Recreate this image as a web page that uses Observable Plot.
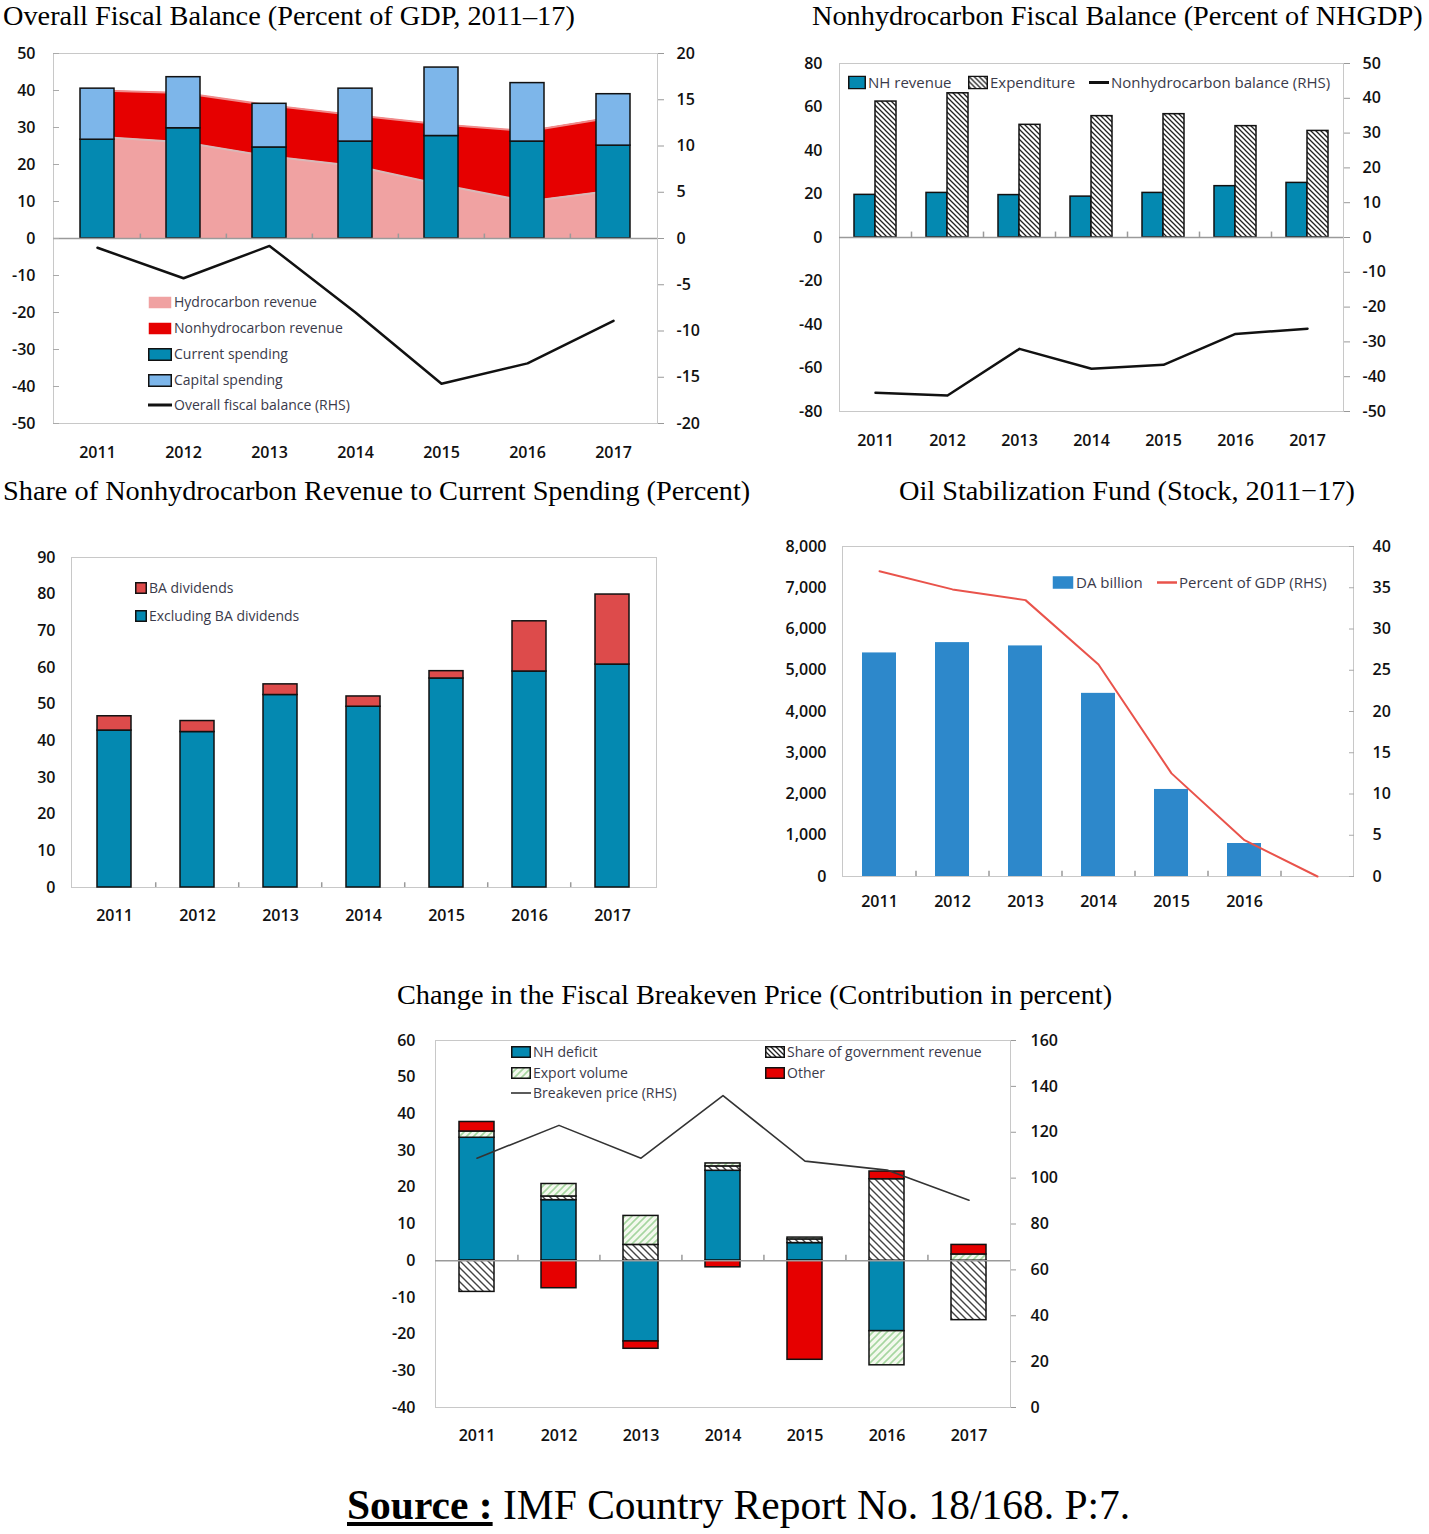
<!DOCTYPE html>
<html><head><meta charset="utf-8">
<script src="https://cdn.jsdelivr.net/npm/d3@7"></script>
<script src="https://cdn.jsdelivr.net/npm/@observablehq/plot@0.6"></script>
<style>
body{margin:0;background:#fff;}
#root{position:relative;width:1429px;height:1534px;overflow:hidden;font-family:"Open Sans",sans-serif;}
.panel{position:absolute;}
.title{position:absolute;font-family:"Liberation Serif","Times New Roman",serif;font-size:28.3px;color:#000;white-space:nowrap;line-height:1.15;}
.leg{position:absolute;font-family:"Open Sans",sans-serif;font-size:14px;color:#3a3a4a;white-space:nowrap;display:flex;align-items:center;line-height:1;transform:translateY(-50%);}
.leg svg{margin-right:2px;flex:none;}
.source{position:absolute;left:347px;top:1485px;font-family:"Liberation Serif","Times New Roman",serif;font-size:41.5px;color:#000;white-space:nowrap;line-height:1;}
.source b{text-decoration:underline;}
</style></head><body>
<svg width="0" height="0" style="position:absolute">
  <defs>
    <pattern id="hatchB5" patternUnits="userSpaceOnUse" width="5" height="5">
      <rect width="5" height="5" fill="#fff"/>
      <path d="M0,0L5,5M-1,4L1,6M4,-1L6,1" stroke="#222" stroke-width="1.3"/>
    </pattern>
    <pattern id="hatchB7" patternUnits="userSpaceOnUse" width="7" height="7">
      <rect width="7" height="7" fill="#fff"/>
      <path d="M0,0L7,7M-1,6L1,8M6,-1L8,1" stroke="#444" stroke-width="1.4"/>
    </pattern>
    <pattern id="hatchG" patternUnits="userSpaceOnUse" width="7" height="7">
      <rect width="7" height="7" fill="#f4f9ee"/>
      <path d="M0,7L7,0M-1,1L1,-1M6,8L8,6" stroke="#a6d6a0" stroke-width="1.6"/>
    </pattern>
  </defs>
</svg>
<div id="root"></div>
<script>
// ---------- DATA ----------
const years = ["2011","2012","2013","2014","2015","2016","2017"];

// Panel 1: Overall Fiscal Balance (Percent of GDP)
const currentSpending = [26.7, 29.8, 24.6, 26.2, 27.7, 26.2, 25.1];
const capitalSpending = [13.8, 13.8, 11.8, 14.3, 18.5, 15.8, 13.9];
const hydroRevenue    = [27.5, 26.0, 22.2, 19.6, 14.5, 10.0, 13.0];
const nonHydroRevenue = [12.5, 13.3, 13.8, 13.7, 16.3, 19.0, 19.8];
const overallBalance  = [-1.0, -4.3, -0.8, -8.0, -15.7, -13.5, -8.9];
const p1LeftTicks  = [-50,-40,-30,-20,-10,0,10,20,30,40,50];
const p1RightTicks = [-20,-15,-10,-5,0,5,10,15,20];

// Panel 2: Nonhydrocarbon Fiscal Balance (Percent of NHGDP)
const nhRevenue   = [19.6, 20.5, 19.5, 18.8, 20.5, 23.6, 25.1];
const expenditure = [62.5, 66.3, 51.8, 55.8, 56.7, 51.2, 49.0];
const nhBalance   = [-44.6, -45.4, -32.0, -37.7, -36.6, -27.7, -26.2];
const p2LeftTicks  = [-80,-60,-40,-20,0,20,40,60,80];
const p2RightTicks = [-50,-40,-30,-20,-10,0,10,20,30,40,50];

// Panel 3: Share of Nonhydrocarbon Revenue to Current Spending
const excludingBA = [42.8, 42.4, 52.5, 49.3, 57.0, 58.9, 60.8];
const baDividends = [3.9, 3.0, 2.9, 2.8, 2.0, 13.7, 19.1];
const p3Ticks = [0,10,20,30,40,50,60,70,80,90];

// Panel 4: Oil Stabilization Fund
const fundDA     = [5420, 5670, 5590, 4440, 2110, 800, 0];
const fundPctGDP = [37.0, 34.8, 33.5, 25.7, 12.5, 4.4, 0];
const fundYearLabels = ["2011","2012","2013","2014","2015","2016",""];
const p4LeftTicks  = [0,1000,2000,3000,4000,5000,6000,7000,8000];
const p4RightTicks = [0,5,10,15,20,25,30,35,40];

// Panel 5: Change in the Fiscal Breakeven Price
const nhDeficit    = [33.5, 16.5, -22.0, 24.5, 4.8, -19.2, 0];
const shareGovRev  = [-8.5, 1.0, 4.3, 1.2, 1.0, 22.2, -16.2];
const exportVolume = [1.7, 3.4, 7.9, 0.8, 0.5, -9.3, 1.7];
const otherContrib = [2.6, -7.5, -2.0, -1.8, -27.0, 2.1, 2.6];
const breakevenPrice = [108.7, 123.0, 108.7, 136.0, 107.4, 103.5, 90.4];
const p5LeftTicks  = [-40,-30,-20,-10,0,10,20,30,40,50,60];
const p5RightTicks = [0,20,40,60,80,100,120,140,160];

// ---------- COLORS ----------
const TEAL = "#0489B1", LIGHTBLUE = "#7DB6EA", PINK = "#F0A2A2", RED = "#E60000";
const BA_RED = "#DD4B4B", FUND_BLUE = "#2D88CB", FUND_RED = "#E9534B";

const root = document.getElementById("root");
const axisStyle = {fontFamily: "'Open Sans', sans-serif", fontSize: "16px", fontWeight: 600, color: "#111", background: "transparent", overflow: "visible"};
function place(node, left, top) {
  node.style.position = "absolute"; node.style.left = left + "px"; node.style.top = top + "px";
  root.appendChild(node);
}
function title(text, left, top) {
  const d = document.createElement("div"); d.className = "title"; d.textContent = text;
  d.style.left = left + "px"; d.style.top = top + "px"; root.appendChild(d);
}
function rectSw(w, h, fill, stroke) {
  return `<svg width="${w}" height="${h}"><rect x="0.75" y="0.75" width="${w-1.5}" height="${h-1.5}" fill="${fill}" stroke="${stroke || "none"}" stroke-width="1.5"/></svg>`;
}
function lineSw(w, color, sw) {
  return `<svg width="${w}" height="8"><line x1="0" x2="${w}" y1="4" y2="4" stroke="${color}" stroke-width="${sw}"/></svg>`;
}
function legend(x, y, sw, label, fs) {
  const d = document.createElement("div"); d.className = "leg";
  d.style.left = x + "px"; d.style.top = y + "px"; if (fs) d.style.fontSize = fs + "px";
  d.innerHTML = sw + `<span>${label}</span>`; root.appendChild(d);
}
const fmt = d => String(Math.round(d * 100) / 100);
// small category-separator ticks on a baseline (half a band step to the left of each year but the first)
function sepTicks(step, y0, len) {
  return Plot.ruleX(years.slice(1), {x: d => d, dx: -step / 2, y1: y0, y2: y0 + len, stroke: "#9a9a9a", strokeWidth: 1.5});
}

// ---------- PANEL 1 ----------
{
  const k = 2.5;
  const rev = years.flatMap((y, i) => [
    {year: y, series: "Hydrocarbon revenue", value: hydroRevenue[i]},
    {year: y, series: "Nonhydrocarbon revenue", value: nonHydroRevenue[i]}]);
  const spend = years.flatMap((y, i) => [
    {year: y, series: "Current spending", value: currentSpending[i]},
    {year: y, series: "Capital spending", value: capitalSpending[i]}]);
  const rows = years.map((y, i) => ({year: y, hydro: hydroRevenue[i], total: hydroRevenue[i] + nonHydroRevenue[i], bal: overallBalance[i]}));
  const p = Plot.plot({
    width: 710, height: 440, marginLeft: 53, marginRight: 53, marginTop: 13, marginBottom: 57,
    style: axisStyle,
    x: {domain: years, paddingInner: 0.6, paddingOuter: 0.3, label: null},
    y: {domain: [-50, 50], label: null},
    color: {domain: ["Hydrocarbon revenue", "Nonhydrocarbon revenue", "Current spending", "Capital spending"], range: [PINK, RED, TEAL, LIGHTBLUE]},
    marks: [
      Plot.frame({stroke: "#c8c8c8"}),
      Plot.areaY(rev, {x: "year", y: "value", fill: "series"}),
      Plot.lineY(rows, {x: "year", y: "hydro", stroke: "#d9b8b8", strokeWidth: 2}),
      Plot.lineY(rows, {x: "year", y: "total", stroke: "#f08a8a", strokeWidth: 2}),
      sepTicks(604 / 7, 0, 1.2),
      Plot.barY(spend, {x: "year", y: "value", fill: "series", stroke: "#111", strokeWidth: 1.5}),
      Plot.ruleY([0], {stroke: "#9a9a9a", strokeWidth: 1.5}),
      Plot.lineY(rows, {x: "year", y: d => d.bal * k, stroke: "#111", strokeWidth: 2.5}),
      Plot.axisX({tickSize: 0, tickPadding: 23}),
      Plot.axisY({anchor: "left", ticks: p1LeftTicks, tickFormat: fmt, tickSize: -6, tickPadding: 24, stroke: "#aaa"}),
      Plot.axisY({anchor: "right", ticks: p1RightTicks.map(r => r * k), tickFormat: d => fmt(d / k), tickSize: 6, tickPadding: 13, stroke: "#999"})
    ]
  });
  place(p, 0, 40);
  title("Overall Fiscal Balance (Percent of GDP, 2011\u201317)", 3, 0);
  legend(148, 302, rectSw(24, 13, PINK), "Hydrocarbon revenue");
  legend(148, 328, rectSw(24, 13, RED), "Nonhydrocarbon revenue");
  legend(148, 354, rectSw(24, 13, TEAL, "#111"), "Current spending");
  legend(148, 380, rectSw(24, 13, LIGHTBLUE, "#111"), "Capital spending");
  legend(148, 405, lineSw(24, "#111", 3), "Overall fiscal balance (RHS)");
}

// ---------- PANEL 2 ----------
{
  const k = 1.6;
  const rows = years.map((y, i) => ({year: y, rev: nhRevenue[i], exp: expenditure[i], bal: nhBalance[i]}));
  const p = Plot.plot({
    width: 669, height: 440, marginLeft: 79, marginRight: 86, marginTop: 23, marginBottom: 69,
    style: axisStyle,
    x: {domain: years, paddingInner: 0.42, paddingOuter: 0.21, label: null},
    y: {domain: [-80, 80], label: null},
    marks: [
      Plot.frame({stroke: "#c8c8c8"}),
      sepTicks(504 / 7, 0, 2.5),
      Plot.barY(rows, {x: "year", y: "rev", fill: TEAL, stroke: "#111", strokeWidth: 1.5, insetRight: 21}),
      Plot.barY(rows, {x: "year", y: "exp", fill: "url(#hatchB5)", stroke: "#111", strokeWidth: 1.5, insetLeft: 21}),
      Plot.ruleY([0], {stroke: "#9a9a9a", strokeWidth: 1.5}),
      Plot.lineY(rows, {x: "year", y: d => d.bal * k, stroke: "#111", strokeWidth: 2.5}),
      Plot.axisX({tickSize: 0, tickPadding: 23}),
      Plot.axisY({anchor: "left", ticks: p2LeftTicks, tickFormat: fmt, tickSize: 0, tickPadding: 17}),
      Plot.axisY({anchor: "right", ticks: p2RightTicks.map(r => r * k), tickFormat: d => fmt(d / k), tickSize: 6, tickPadding: 13, stroke: "#999"})
    ]
  });
  place(p, 760, 40);
  title("Nonhydrocarbon Fiscal Balance (Percent of NHGDP)", 812, 0);
  legend(848, 82, rectSw(18, 14, TEAL, "#111"), "NH revenue", 15);
  legend(968, 82, `<svg width="20" height="14"><rect x="0.75" y="0.75" width="18.5" height="12.5" fill="url(#hatchB5)" stroke="#111" stroke-width="1.5"/></svg>`, "Expenditure", 15);
  legend(1089, 82, lineSw(20, "#111", 3), "Nonhydrocarbon balance (RHS)", 15);
}

// ---------- PANEL 3 ----------
{
  const data = years.flatMap((y, i) => [
    {year: y, series: "Excluding BA dividends", value: excludingBA[i]},
    {year: y, series: "BA dividends", value: baDividends[i]}]);
  const p = Plot.plot({
    width: 700, height: 410, marginLeft: 71, marginRight: 44, marginTop: 27, marginBottom: 53,
    style: axisStyle,
    x: {domain: years, paddingInner: 0.59, paddingOuter: 0.295, label: null},
    y: {domain: [0, 90], label: null},
    color: {domain: ["Excluding BA dividends", "BA dividends"], range: [TEAL, BA_RED]},
    marks: [
      Plot.frame({stroke: "#c8c8c8"}),
      sepTicks(585 / 7, 0, 1.3),
      Plot.barY(data, {x: "year", y: "value", fill: "series", stroke: "#111", strokeWidth: 1.5}),
      Plot.axisX({tickSize: 0, tickPadding: 22}),
      Plot.axisY({anchor: "left", ticks: p3Ticks, tickFormat: fmt, tickSize: 0, tickPadding: 16})
    ]
  });
  place(p, 0, 530);
  title("Share of Nonhydrocarbon Revenue to Current Spending (Percent)", 3, 475);
  legend(135, 588, rectSw(12, 12, BA_RED, "#111"), "BA dividends");
  legend(135, 616, rectSw(12, 12, TEAL, "#111"), "Excluding BA dividends");
}

// ---------- PANEL 4 ----------
{
  const k = 200;
  const rows = years.map((y, i) => ({year: y, da: fundDA[i], pct: fundPctGDP[i]}));
  const p = Plot.plot({
    width: 669, height: 420, marginLeft: 82, marginRight: 76, marginTop: 26, marginBottom: 64,
    style: axisStyle,
    x: {domain: years, paddingInner: 0.54, paddingOuter: 0.27, label: null},
    y: {domain: [0, 8000], label: null},
    marks: [
      Plot.frame({stroke: "#c8c8c8"}),
      sepTicks(511 / 7, 0, 130),
      Plot.barY(rows, {x: "year", y: "da", fill: FUND_BLUE}),
      Plot.lineY(rows, {x: "year", y: d => d.pct * k, stroke: FUND_RED, strokeWidth: 2}),
      Plot.axisX({tickSize: 0, tickPadding: 19, tickFormat: d => fundYearLabels[years.indexOf(d)]}),
      Plot.axisY({anchor: "left", ticks: p4LeftTicks, tickFormat: d3.format(","), tickSize: 0, tickPadding: 16}),
      Plot.axisY({anchor: "right", ticks: p4RightTicks.map(r => r * k), tickFormat: d => fmt(d / k), tickSize: -5, tickPadding: 24, stroke: "#aaa"})
    ]
  });
  place(p, 760, 520);
  title("Oil Stabilization Fund (Stock, 2011\u221217)", 899, 475);
  legend(1052, 582, rectSw(22, 14, FUND_BLUE), "DA billion", 15);
  legend(1157, 582, lineSw(20, FUND_RED, 2.5), "Percent of GDP (RHS)", 15);
}

// ---------- PANEL 5 ----------
{
  const toLeft = r => r * 0.625 - 40;
  const seriesNames = ["NH deficit", "Share of government revenue", "Export volume", "Other"];
  const seriesVals = [nhDeficit, shareGovRev, exportVolume, otherContrib];
  const data = years.flatMap((y, i) => seriesNames.map((s, j) => ({year: y, series: s, value: seriesVals[j][i]})))
    .filter(d => d.value !== 0);
  const rows = years.map((y, i) => ({year: y, price: breakevenPrice[i]}));
  const p = Plot.plot({
    width: 700, height: 440, marginLeft: 55, marginRight: 70, marginTop: 20, marginBottom: 53,
    style: axisStyle,
    x: {domain: years, paddingInner: 0.57, paddingOuter: 0.285, label: null},
    y: {domain: [-40, 60], label: null},
    color: {domain: seriesNames, range: [TEAL, "url(#hatchB7)", "url(#hatchG)", RED]},
    marks: [
      Plot.frame({stroke: "#c8c8c8"}),
      sepTicks(575 / 7, 0, 1.5),
      Plot.barY(data, {x: "year", y: "value", fill: "series", stroke: "#111", strokeWidth: 1.5}),
      Plot.ruleY([0], {stroke: "#9a9a9a", strokeWidth: 1.5}),
      Plot.lineY(rows, {x: "year", y: d => toLeft(d.price), stroke: "#333", strokeWidth: 1.6}),
      Plot.axisX({tickSize: 0, tickPadding: 22}),
      Plot.axisY({anchor: "left", ticks: p5LeftTicks, tickFormat: fmt, tickSize: 0, tickPadding: 20}),
      Plot.axisY({anchor: "right", ticks: p5RightTicks.map(toLeft), tickFormat: d => fmt((d + 40) / 0.625), tickSize: 5, tickPadding: 15, stroke: "#999"})
    ]
  });
  place(p, 380, 1020);
  title("Change in the Fiscal Breakeven Price (Contribution in percent)", 397, 979);
  legend(511, 1052, rectSw(20, 12, TEAL, "#111"), "NH deficit");
  legend(765, 1052, `<svg width="20" height="12"><rect x="0.75" y="0.75" width="18.5" height="10.5" fill="url(#hatchB5)" stroke="#111" stroke-width="1.5"/></svg>`, "Share of government revenue");
  legend(511, 1073, `<svg width="20" height="12"><rect x="0.75" y="0.75" width="18.5" height="10.5" fill="url(#hatchG)" stroke="#111" stroke-width="1.5"/></svg>`, "Export volume");
  legend(765, 1073, rectSw(20, 12, RED, "#111"), "Other");
  legend(511, 1093, lineSw(20, "#333", 1.6), "Breakeven price (RHS)");
}

// ---------- SOURCE ----------
{
  const d = document.createElement("div"); d.className = "source";
  d.innerHTML = "<b>Source :</b> IMF Country Report No. 18/168. P:7.";
  root.appendChild(d);
}
</script></body></html>
